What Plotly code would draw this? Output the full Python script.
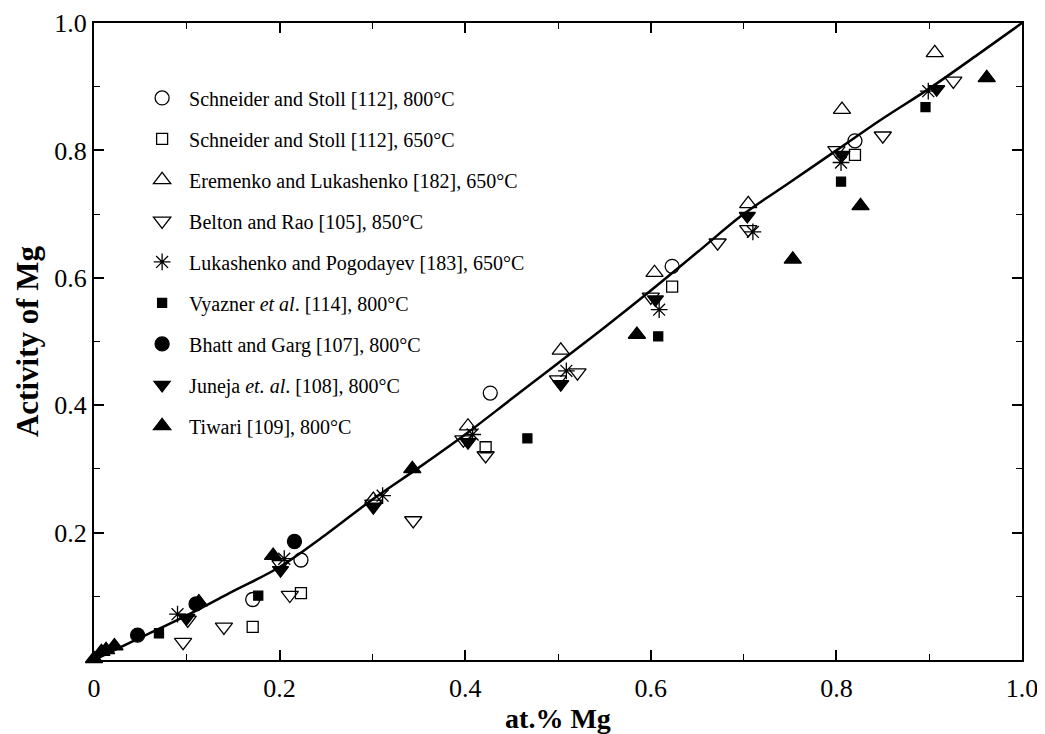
import plotly.graph_objects as go

# fitted curve
curve_x = [0, 0.05, 0.1, 0.15, 0.2, 0.25, 0.3, 0.35, 0.4, 0.45, 0.5,
           0.55, 0.6, 0.65, 0.7, 0.75, 0.8, 0.85, 0.9, 0.95, 1.0]
curve_y = [0, 0.035, 0.07, 0.108, 0.146, 0.197, 0.252, 0.302, 0.354, 0.41, 0.466,
           0.522, 0.58, 0.64, 0.70, 0.75, 0.80, 0.85, 0.897, 0.948, 1.0]

# experimental data sets
ss800_x = [0.171, 0.223, 0.427, 0.623, 0.820]
ss800_y = [0.095, 0.157, 0.419, 0.618, 0.815]

ss650_x = [0.171, 0.223, 0.422, 0.623, 0.820]
ss650_y = [0.052, 0.105, 0.334, 0.586, 0.793]

erem_x = [0.301, 0.403, 0.503, 0.604, 0.705, 0.806, 0.906]
erem_y = [0.252, 0.367, 0.486, 0.608, 0.716, 0.864, 0.953]

belton_x = [0.096, 0.101, 0.140, 0.201, 0.211, 0.301, 0.344, 0.398, 0.422, 0.500,
            0.521, 0.600, 0.672, 0.705, 0.800, 0.850, 0.926]
belton_y = [0.028, 0.063, 0.052, 0.150, 0.102, 0.245, 0.219, 0.346, 0.321, 0.440,
            0.451, 0.570, 0.655, 0.676, 0.800, 0.823, 0.909]

luka_x = [0.090, 0.205, 0.311, 0.408, 0.509, 0.609, 0.710, 0.805, 0.899]
luka_y = [0.072, 0.159, 0.258, 0.354, 0.454, 0.550, 0.672, 0.781, 0.893]

vyaz_x = [0.070, 0.177, 0.467, 0.608, 0.805, 0.896]
vyaz_y = [0.042, 0.101, 0.348, 0.508, 0.751, 0.868]

bhatt_x = [0.047, 0.110, 0.216]
bhatt_y = [0.039, 0.088, 0.186]

juneja_x = [0.100, 0.201, 0.301, 0.403, 0.503, 0.605, 0.704, 0.806, 0.908]
juneja_y = [0.066, 0.141, 0.240, 0.342, 0.433, 0.566, 0.697, 0.793, 0.896]

tiwari_x = [0.0, 0.008, 0.013, 0.022, 0.113, 0.193, 0.343, 0.585, 0.753, 0.826, 0.962]
tiwari_y = [0.002, 0.013, 0.016, 0.022, 0.091, 0.164, 0.300, 0.511, 0.629, 0.713, 0.914]

tick_vals_x = [0, 0.2, 0.4, 0.6, 0.8, 1.0]
tick_text_x = ['0', '0.2', '0.4', '0.6', '0.8', '1.0']
tick_vals_y = [0.2, 0.4, 0.6, 0.8, 1.0]
tick_text_y = ['0.2', '0.4', '0.6', '0.8', '1.0']

series = [
    ('Schneider and Stoll [112], 800°C', ss800_x, ss800_y, 'circle-open', 14),
    ('Schneider and Stoll [112], 650°C', ss650_x, ss650_y, 'square-open', 11),
    ('Eremenko and Lukashenko [182], 650°C', erem_x, erem_y, 'triangle-up-open', 15),
    ('Belton and Rao [105], 850°C', belton_x, belton_y, 'triangle-down-open', 15),
    ('Lukashenko and Pogodayev [183], 650°C', luka_x, luka_y, 'asterisk-open', 14),
    ('Vyazner <i>et al</i>. [114], 800°C', vyaz_x, vyaz_y, 'square', 9),
    ('Bhatt and Garg [107], 800°C', bhatt_x, bhatt_y, 'circle', 14),
    ('Juneja <i>et. al</i>. [108], 800°C', juneja_x, juneja_y, 'triangle-down', 14),
    ('Tiwari [109], 800°C', tiwari_x, tiwari_y, 'triangle-up', 15),
]

fig = go.Figure()

fig.add_trace(go.Scatter(
    x=curve_x, y=curve_y, mode='lines',
    line=dict(color='black', width=2.5, shape='spline'),
    showlegend=False
))

for i, (name, xs, ys, sym, size) in enumerate(series):
    fig.add_trace(go.Scatter(
        x=xs, y=ys, mode='markers', name=name,
        legendgroup=f'g{i}',
        marker=dict(symbol=sym, size=size, color='black',
                    line=dict(color='black', width=1.3)),
        cliponaxis=False
    ))

axis_common = dict(
    showline=True, linecolor='black', linewidth=2, mirror='ticks',
    ticks='inside', ticklen=10, tickwidth=1.5, tickcolor='black',
    showgrid=False, zeroline=False, ticklabeloverflow='allow', automargin=False,
    minor=dict(ticks='inside', ticklen=6, tickwidth=1.2, tickcolor='black', dtick=0.1),
    tickfont=dict(family='Liberation Serif', size=26, color='black'),
)

fig.update_xaxes(
    range=[0, 1], tickvals=tick_vals_x, ticktext=tick_text_x,
    ticklabelstandoff=4,
    title=dict(text='<b>at.% Mg</b>', font=dict(family='Liberation Serif', size=28, color='black'),
               standoff=6),
    **axis_common
)
fig.update_yaxes(
    range=[0, 1], tickvals=tick_vals_y, ticktext=tick_text_y,
    title=dict(text='<b>Activity of Mg</b>', font=dict(family='Liberation Serif', size=31, color='black'),
               standoff=6),
    **axis_common
)

fig.update_layout(
    width=1045, height=734,
    margin=dict(l=86, r=31, t=15, b=82),
    paper_bgcolor='white', plot_bgcolor='white',
    font=dict(family='Liberation Serif', color='black'),
    legend=dict(
        x=0.0443, y=0.913, xanchor='left', yanchor='top',
        bgcolor='rgba(0,0,0,0)', borderwidth=0,
        font=dict(family='Liberation Serif', size=20, color='black'),
        tracegroupgap=12, itemsizing='trace', itemwidth=44,
    ),
)

fig.write_html("out.html")
